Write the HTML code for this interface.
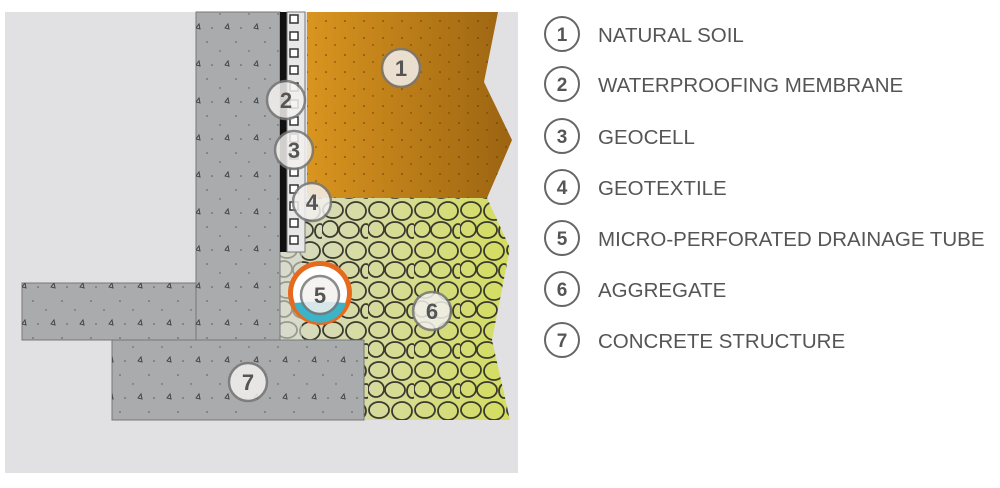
<!DOCTYPE html>
<html><head><style>
body{margin:0;background:#fff;width:1000px;height:483px;overflow:hidden;font-family:"Liberation Sans",sans-serif}
</style></head><body>
<svg width="1000" height="483" xmlns="http://www.w3.org/2000/svg">
<defs>
<linearGradient id="soil" x1="0" x2="1"><stop offset="0" stop-color="#d9951f"/><stop offset="1" stop-color="#9c6412"/></linearGradient>
<linearGradient id="agg" x1="0" x2="1"><stop offset="0" stop-color="#d8dac8"/><stop offset="1" stop-color="#d4dd5e"/></linearGradient>
<pattern id="stones" width="46" height="40" patternUnits="userSpaceOnUse">
<g fill="none" stroke="#3a3a30" stroke-width="1.8">
<ellipse cx="11" cy="10" rx="10" ry="8"/><ellipse cx="34" cy="11" rx="10" ry="9"/>
<ellipse cx="8" cy="29" rx="8" ry="8"/><ellipse cx="27" cy="30" rx="10" ry="8"/><ellipse cx="44" cy="31" rx="5" ry="7"/>
</g></pattern>
<pattern id="dots" width="29" height="37" patternUnits="userSpaceOnUse">
<circle cx="4" cy="5" r="0.8" fill="#555"/><circle cx="17" cy="14" r="0.7" fill="#555"/><circle cx="9" cy="28" r="0.8" fill="#555"/><path d="M22 28 l3 -4 l1 5z" fill="none" stroke="#444" stroke-width="1"/>
</pattern>
<pattern id="sdots" width="19" height="17" patternUnits="userSpaceOnUse">
<circle cx="3" cy="4" r="0.8" fill="#5a3a08"/><circle cx="12" cy="11" r="0.7" fill="#5a3a08"/>
</pattern>
</defs>
<rect x="5" y="12" width="513" height="461" fill="#e1e1e3"/>
<polygon points="307,12 498,12 484,82 512,140 487,198 307,198" fill="url(#soil)"/>
<polygon points="307,12 498,12 484,82 512,140 487,198 307,198" fill="url(#sdots)"/>
<polygon points="280,198 487,198 510,248 492,340 510,420 280,420" fill="url(#agg)"/>
<polygon points="280,198 487,198 510,248 492,340 510,420 280,420" fill="url(#stones)"/>
<rect x="280" y="252" width="22" height="88" fill="#d8dad0" opacity="0.6"/>
<rect x="196" y="12" width="84" height="328" fill="#aaabad" stroke="#777" stroke-width="1"/>
<rect x="22" y="283" width="174" height="57" fill="#aaabad" stroke="#777" stroke-width="1"/>
<rect x="112" y="340" width="252" height="80" fill="#aaabad" stroke="#777" stroke-width="1"/>
<rect x="196" y="12" width="84" height="328" fill="url(#dots)"/>
<rect x="22" y="283" width="174" height="57" fill="url(#dots)"/>
<rect x="112" y="340" width="252" height="80" fill="url(#dots)"/>
<rect x="280" y="12" width="7" height="240" fill="#111"/>
<rect x="287" y="12" width="18" height="240" fill="#e8e8e8" stroke="#777" stroke-width="1"/>
<g fill="#fff" stroke="#333" stroke-width="1.5">
<rect x="290" y="15" width="8" height="8"/><rect x="290" y="32" width="8" height="8"/><rect x="290" y="49" width="8" height="8"/><rect x="290" y="66" width="8" height="8"/><rect x="290" y="83" width="8" height="8"/><rect x="290" y="100" width="8" height="8"/><rect x="290" y="117" width="8" height="8"/><rect x="290" y="134" width="8" height="8"/><rect x="290" y="151" width="8" height="8"/><rect x="290" y="168" width="8" height="8"/><rect x="290" y="185" width="8" height="8"/><rect x="290" y="202" width="8" height="8"/><rect x="290" y="219" width="8" height="8"/><rect x="290" y="236" width="8" height="8"/>
</g>
<circle cx="320" cy="293" r="32" fill="#e66a1d"/>
<circle cx="320" cy="293" r="27" fill="#fff"/>
<path d="M294 303 A27 27 0 0 0 346 303 Q320 300 294 303z" fill="#3bb3c9"/>
<g font-family="Liberation Sans,sans-serif" font-weight="bold" font-size="22" fill="#555" text-anchor="middle">
<g stroke="#777" stroke-width="2.5" fill="#f3f1ef" opacity="0.85">
<circle cx="401" cy="68" r="19"/><circle cx="286" cy="100" r="19"/><circle cx="294" cy="150" r="19"/><circle cx="312" cy="202" r="19"/><circle cx="320" cy="295" r="19"/><circle cx="432" cy="311" r="19"/><circle cx="248" cy="382" r="19"/>
</g>
<text x="401" y="76">1</text><text x="286" y="108">2</text><text x="294" y="158">3</text><text x="312" y="210">4</text><text x="320" y="303">5</text><text x="432" y="319">6</text><text x="248" y="390">7</text>
</g>
<g fill="none" stroke="#666" stroke-width="2">
<circle cx="562" cy="34" r="17"/><circle cx="562" cy="84" r="17"/><circle cx="562" cy="136" r="17"/><circle cx="562" cy="187" r="17"/><circle cx="562" cy="238" r="17"/><circle cx="562" cy="289" r="17"/><circle cx="562" cy="340" r="17"/>
</g>
<g font-family="Liberation Sans,sans-serif" font-weight="bold" font-size="19" fill="#555" text-anchor="middle">
<text x="562" y="41">1</text><text x="562" y="91">2</text><text x="562" y="143">3</text><text x="562" y="194">4</text><text x="562" y="245">5</text><text x="562" y="296">6</text><text x="562" y="347">7</text>
</g>
<g font-family="Liberation Sans,sans-serif" font-size="20.5" fill="#555">
<text x="598" y="42">NATURAL SOIL</text><text x="598" y="92">WATERPROOFING MEMBRANE</text><text x="598" y="144">GEOCELL</text><text x="598" y="195">GEOTEXTILE</text><text x="598" y="246">MICRO-PERFORATED DRAINAGE TUBE</text><text x="598" y="297">AGGREGATE</text><text x="598" y="348">CONCRETE STRUCTURE</text>
</g>
</svg>
</body></html>
